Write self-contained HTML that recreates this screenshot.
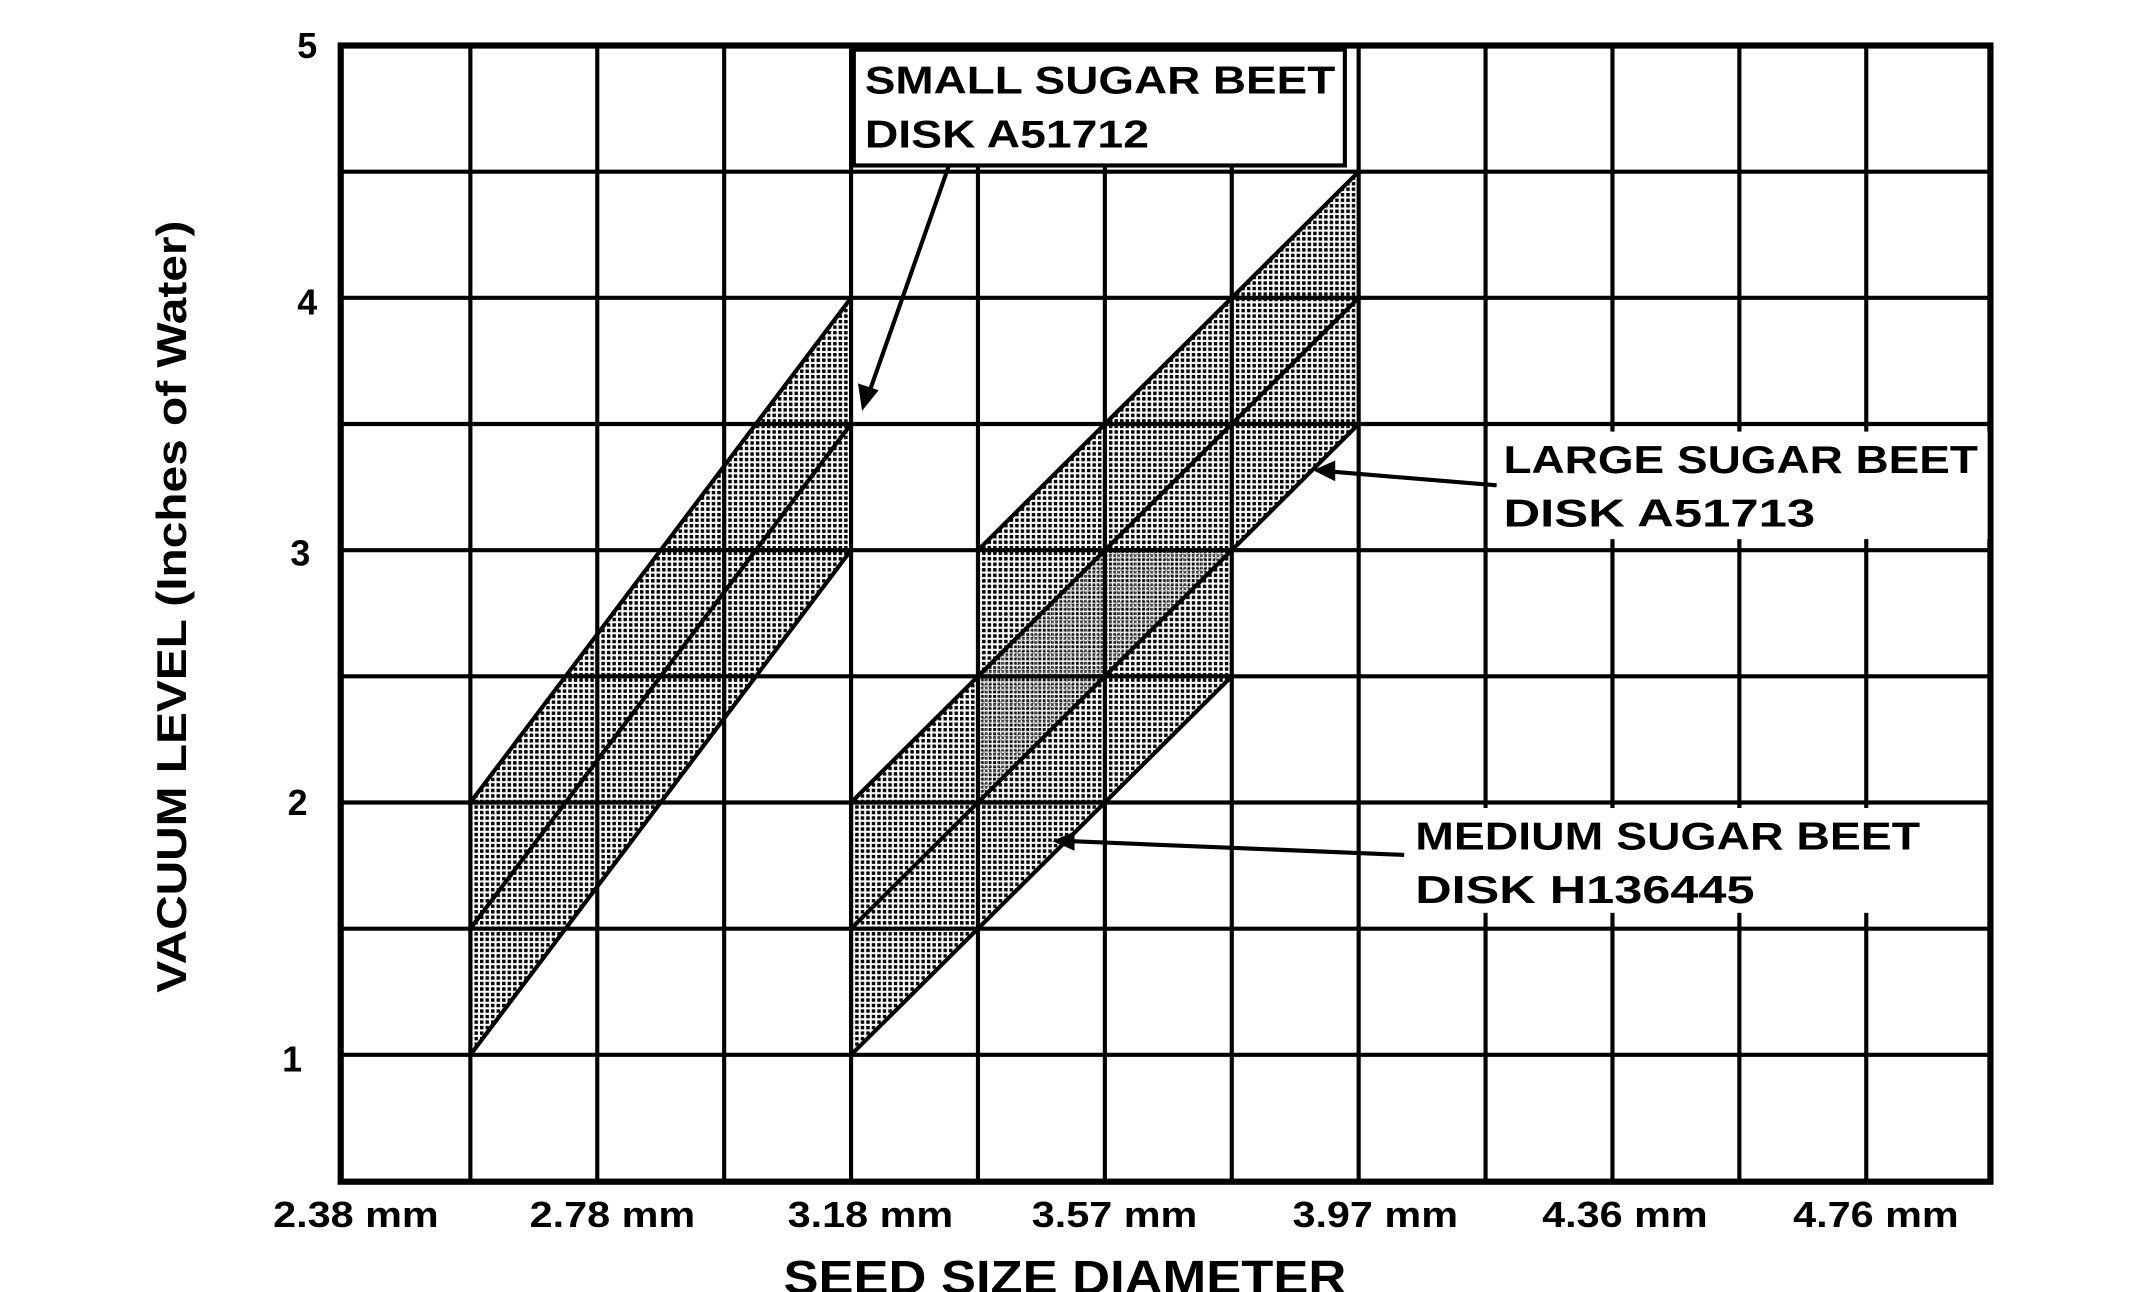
<!DOCTYPE html>
<html><head><meta charset="utf-8"><style>
html,body{margin:0;padding:0;background:#fff;}
svg{display:block;}
text{font-family:"Liberation Sans",sans-serif;font-weight:bold;fill:#000;}
</style></head><body>
<svg width="2138" height="1292" viewBox="0 0 1550 937" preserveAspectRatio="none" xmlns="http://www.w3.org/2000/svg">
<defs>
<pattern id="dots" width="4" height="4" patternUnits="userSpaceOnUse">
<rect width="4" height="4" fill="#fff"/>
<rect x="0" y="0" width="2.5" height="2.5" fill="#000"/>
</pattern>
<pattern id="dots2" width="3" height="3" patternUnits="userSpaceOnUse">
<rect width="3" height="3" fill="#fff"/>
<rect x="0" y="0" width="2" height="2" fill="#000"/>
</pattern>
</defs>
<rect width="1550" height="937" fill="#fff"/>
<polygon points="341,765 617,399 617,216 341,582" fill="url(#dots)"/>
<polygon points="617,765 893,490.5 893,399 985,307.5 985,124.5 709,399 709,490.5 617,582" fill="url(#dots)"/>
<polygon points="709,490.5 801,399 893,399 801,490.5 709,582" fill="url(#dots2)" opacity="0.7"/>
<g stroke="#000" stroke-width="3" fill="none">
<line x1="341" y1="33" x2="341" y2="857"/><line x1="433" y1="33" x2="433" y2="857"/>
<line x1="525" y1="33" x2="525" y2="857"/><line x1="617" y1="33" x2="617" y2="857"/>
<line x1="709" y1="33" x2="709" y2="857"/><line x1="801" y1="33" x2="801" y2="857"/>
<line x1="893" y1="33" x2="893" y2="857"/><line x1="985" y1="33" x2="985" y2="857"/>
<line x1="1077" y1="33" x2="1077" y2="857"/><line x1="1169" y1="33" x2="1169" y2="857"/>
<line x1="1261" y1="33" x2="1261" y2="857"/><line x1="1353" y1="33" x2="1353" y2="857"/>
<line x1="247" y1="124.5" x2="1443" y2="124.5"/><line x1="247" y1="216" x2="1443" y2="216"/>
<line x1="247" y1="307.5" x2="1443" y2="307.5"/><line x1="247" y1="399" x2="1443" y2="399"/>
<line x1="247" y1="490.5" x2="1443" y2="490.5"/><line x1="247" y1="582" x2="1443" y2="582"/>
<line x1="247" y1="673.5" x2="1443" y2="673.5"/><line x1="247" y1="765" x2="1443" y2="765"/>
<line x1="341" y1="765" x2="617" y2="399"/><line x1="341" y1="673.5" x2="617" y2="307.5"/>
<line x1="341" y1="582" x2="617" y2="216"/>
<line x1="617" y1="765" x2="893" y2="490.5"/><line x1="617" y1="673.5" x2="985" y2="307.5"/>
<line x1="617" y1="582" x2="985" y2="216"/><line x1="709" y1="399" x2="985" y2="124.5"/>
</g>
<rect x="247" y="33" width="1196" height="824" fill="none" stroke="#000" stroke-width="4.5"/>
<rect x="619" y="36" width="356" height="84" fill="#fff" stroke="#000" stroke-width="3"/>
<rect x="1080" y="313" width="361" height="78" fill="#fff"/>
<rect x="1016" y="586" width="380" height="76" fill="#fff"/>
<text x="627" y="68" font-size="28" textLength="341" lengthAdjust="spacingAndGlyphs">SMALL  SUGAR  BEET</text>
<text x="627" y="107" font-size="28" textLength="206" lengthAdjust="spacingAndGlyphs">DISK  A51712</text>
<text x="1090" y="343" font-size="28" textLength="344" lengthAdjust="spacingAndGlyphs">LARGE  SUGAR  BEET</text>
<text x="1090" y="382" font-size="28" textLength="226" lengthAdjust="spacingAndGlyphs">DISK    A51713</text>
<text x="1026" y="616" font-size="28" textLength="366" lengthAdjust="spacingAndGlyphs">MEDIUM  SUGAR  BEET</text>
<text x="1026" y="655" font-size="28" textLength="246" lengthAdjust="spacingAndGlyphs">DISK    H136445</text>
<g stroke="#000" stroke-width="3">
<line x1="688" y1="120" x2="630" y2="285"/>
<line x1="1085" y1="352" x2="965" y2="342"/>
<line x1="1018" y1="620" x2="775" y2="610"/>
</g>
<polygon points="625,298 622,278 637,283" fill="#000"/>
<polygon points="952,341 968,334 968,349" fill="#000"/>
<polygon points="763,610 779,603 779,617" fill="#000"/>
<text x="230" y="42" font-size="26" text-anchor="end">5</text>
<text x="230" y="228" font-size="26" text-anchor="end">4</text>
<text x="225" y="410" font-size="26" text-anchor="end">3</text>
<text x="223" y="591" font-size="26" text-anchor="end">2</text>
<text x="219" y="777" font-size="26" text-anchor="end">1</text>
<g font-size="26" text-anchor="middle">
<text x="258" y="890" textLength="120" lengthAdjust="spacingAndGlyphs">2.38 mm</text>
<text x="444" y="890" textLength="120" lengthAdjust="spacingAndGlyphs">2.78 mm</text>
<text x="631" y="890" textLength="120" lengthAdjust="spacingAndGlyphs">3.18 mm</text>
<text x="808" y="890" textLength="120" lengthAdjust="spacingAndGlyphs">3.57 mm</text>
<text x="997" y="890" textLength="120" lengthAdjust="spacingAndGlyphs">3.97 mm</text>
<text x="1178" y="890" textLength="120" lengthAdjust="spacingAndGlyphs">4.36 mm</text>
<text x="1360" y="890" textLength="120" lengthAdjust="spacingAndGlyphs">4.76 mm</text>
</g>
<text x="772" y="938" font-size="34" text-anchor="middle" textLength="408" lengthAdjust="spacingAndGlyphs">SEED SIZE DIAMETER</text>
<text transform="translate(135,440) rotate(-90)" font-size="30" text-anchor="middle" textLength="560" lengthAdjust="spacingAndGlyphs">VACUUM  LEVEL  (Inches  of  Water)</text>
</svg>
</body></html>
